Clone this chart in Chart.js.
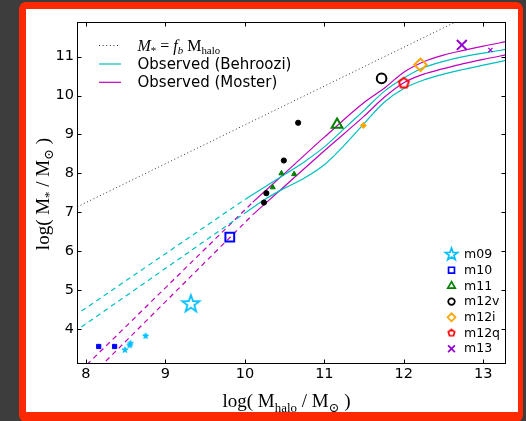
<!DOCTYPE html>
<html>
<head>
<meta charset="utf-8">
<script src="https://cdn.jsdelivr.net/npm/chart.js@4.4.0/dist/chart.umd.min.js"></script>
<style>
  html, body { margin: 0; padding: 0; background: #3d3d3d; overflow: hidden; }
  body { width: 526px; height: 421px; position: relative; }
  #frame {
    position: absolute; left: 19px; top: 2px; width: 492px; height: 403px;
    border: 7px solid #fc2a04; border-right-width: 5px; border-bottom-width: 10px;
    border-radius: 7px; background: #fff;
  }
  #frame canvas { display: block; }
</style>
</head>
<body>
<div id="frame"><canvas id="chart" width="492" height="403"></canvas></div>
<script>
(function () {
  // axis ticks
  var xTicks = [8, 9, 10, 11, 12, 13];
  var yTicks = [4, 5, 6, 7, 8, 9, 10, 11];

  // baryon fraction line, M* = f_b Mhalo
  var fbHalo = [7.85, 12.75];
  var fbStar = [7.10, 11.99];

  // Behroozi relation (two curves) and its low-mass extrapolation
  var behrooziHalo = [10.0, 10.25, 10.5, 10.75, 11.0, 11.25, 11.5, 11.75, 12.0, 12.25, 12.5, 12.75, 13.0, 13.3];
  var behrooziHi = [7.33, 7.65, 7.97, 8.30, 8.68, 9.15, 9.62, 10.10, 10.45, 10.72, 10.88, 11.00, 11.09, 11.19];
  var behrooziLo = [6.98, 7.33, 7.62, 7.88, 8.22, 8.72, 9.28, 9.82, 10.18, 10.40, 10.55, 10.67, 10.78, 10.91];
  var behrooziExtHalo = [7.85, 10.0];
  var behrooziExtHi = [4.33, 7.33];
  var behrooziExtLo = [3.92, 6.98];

  // Moster relation (two curves) and its low-mass extrapolation
  var mosterHalo = [10.1, 10.5, 11.0, 11.5, 11.75, 12.0, 12.25, 12.5, 12.75, 13.0, 13.3];
  var mosterHi = [7.26, 8.00, 8.93, 9.82, 10.18, 10.60, 10.87, 11.04, 11.16, 11.27, 11.39];
  var mosterLo = [6.94, 7.67, 8.58, 9.47, 9.95, 10.33, 10.55, 10.69, 10.82, 10.93, 11.05];
  var mosterExtHalo = [7.85, 10.1];
  var mosterExtHi = [2.76, 7.26];
  var mosterExtLo = [2.36, 6.94];

  // main haloes
  var simNames = ['m09', 'm10', 'm11', 'm12v', 'm12i', 'm12q', 'm13'];
  var simHalo = [9.32, 9.81, 11.16, 11.72, 12.21, 12.00, 12.73];
  var simStar = [4.64, 6.36, 9.25, 10.44, 10.79, 10.32, 11.30];

  // other galaxies in the same boxes
  var m09SmallHalo = [8.49, 8.55, 8.56, 8.75];
  var m09SmallStar = [3.46, 3.58, 3.63, 3.82];
  var m10SmallHalo = [8.16, 8.36];
  var m10SmallStar = [3.55, 3.55];
  var m11SmallHalo = [10.35, 10.46, 10.62];
  var m11SmallStar = [7.64, 8.00, 7.98];
  var m12vSmallHalo = [10.24, 10.27, 10.49, 10.67];
  var m12vSmallStar = [7.25, 7.49, 8.33, 9.30];
  var m12iSmallHalo = [11.49];
  var m12iSmallStar = [9.23];
  var m13SmallHalo = [13.09];
  var m13SmallStar = [11.17];

  var cyan = '#00bfbf';
  var magenta = '#bf00bf';
  var simColors = ['#00bfff', '#0000ff', '#008000', '#000000', '#ffa500', '#ff0000', '#9400d3'];

  function pts(xs, ys) {
    return xs.map(function (x, i) { return { x: x, y: ys[i] }; });
  }

  // star / pentagon markers as small canvases
  function polyMarker(n, rOut, rIn, color, filled, lw) {
    var pad = lw + 1;
    var s = Math.ceil(2 * rOut + 2 * pad);
    var c = document.createElement('canvas');
    c.width = s; c.height = s;
    var g = c.getContext('2d');
    var steps = rIn ? n * 2 : n;
    g.beginPath();
    for (var i = 0; i < steps; i++) {
      var r = (rIn && i % 2) ? rIn : rOut;
      var a = -Math.PI / 2 + i * 2 * Math.PI / steps;
      g.lineTo(s / 2 + r * Math.cos(a), s / 2 + r * Math.sin(a));
    }
    g.closePath();
    if (filled) { g.fillStyle = color; g.fill(); }
    g.lineWidth = lw;
    g.strokeStyle = color;
    g.stroke();
    return c;
  }

  var bigStar = polyMarker(5, 9, 3.6, simColors[0], false, 1.8);
  var smallStar = polyMarker(5, 3.2, 1.4, simColors[0], true, 0.8);
  var legendStar = polyMarker(5, 6.4, 2.6, simColors[0], false, 1.7);
  var bigPenta = polyMarker(5, 5.2, 0, simColors[5], false, 2);
  var legendPenta = polyMarker(5, 3.4, 0, simColors[5], false, 1.7);

  var bigStyles = [
    { pointStyle: bigStar, radius: 9, lw: 2, legend: { pointStyle: legendStar, radius: 6, lw: 1.7 } },
    { pointStyle: 'rect', radius: 6.2, lw: 2, legend: { pointStyle: 'rect', radius: 4.2, lw: 1.7 } },
    { pointStyle: 'triangle', radius: 6.2, lw: 2, legend: { pointStyle: 'triangle', radius: 4.3, lw: 1.7 } },
    { pointStyle: 'circle', radius: 4.8, lw: 2, legend: { pointStyle: 'circle', radius: 3.3, lw: 1.7 } },
    { pointStyle: 'rectRot', radius: 6.2, lw: 2, legend: { pointStyle: 'rectRot', radius: 4, lw: 1.7 } },
    { pointStyle: bigPenta, radius: 5, lw: 2, legend: { pointStyle: legendPenta, radius: 3.4, lw: 1.7 } },
    { pointStyle: 'crossRot', radius: 7, lw: 2, legend: { pointStyle: 'crossRot', radius: 4.8, lw: 1.7 } }
  ];

  function lineSet(xs, ys, color, dash, width) {
    return {
      data: pts(xs, ys),
      showLine: true,
      borderColor: color,
      borderWidth: width || 1.2,
      borderDash: dash || [],
      pointRadius: 0,
      fill: false,
      cubicInterpolationMode: 'monotone',
      order: 2
    };
  }

  function smallSet(xs, ys, color, style, radius, filled, lw) {
    return {
      data: pts(xs, ys),
      showLine: false,
      pointStyle: style,
      pointRadius: radius,
      pointBorderWidth: lw || 1,
      pointBorderColor: color,
      pointBackgroundColor: filled ? color : 'rgba(0,0,0,0)',
      order: 1
    };
  }

  var datasets = [
    lineSet(fbHalo, fbStar, '#333', [1, 2.6], 1),
    lineSet(behrooziExtHalo, behrooziExtHi, cyan, [5, 4]),
    lineSet(behrooziExtHalo, behrooziExtLo, cyan, [5, 4]),
    lineSet(mosterExtHalo, mosterExtHi, magenta, [5, 4]),
    lineSet(mosterExtHalo, mosterExtLo, magenta, [5, 4]),
    lineSet(behrooziHalo, behrooziHi, cyan),
    lineSet(behrooziHalo, behrooziLo, cyan),
    lineSet(mosterHalo, mosterHi, magenta),
    lineSet(mosterHalo, mosterLo, magenta),
    smallSet(m09SmallHalo, m09SmallStar, simColors[0], smallStar, 3, true),
    smallSet(m10SmallHalo, m10SmallStar, simColors[1], 'rect', 3, true),
    smallSet(m11SmallHalo, m11SmallStar, simColors[2], 'triangle', 3, true),
    smallSet(m12vSmallHalo, m12vSmallStar, simColors[3], 'circle', 2.6, true),
    smallSet(m12iSmallHalo, m12iSmallStar, simColors[4], 'rectRot', 3, true),
    smallSet(m13SmallHalo, m13SmallStar, simColors[6], 'crossRot', 3, false, 1.2)
  ];

  simNames.forEach(function (name, i) {
    var st = bigStyles[i];
    datasets.push({
      label: name,
      simLegend: st.legend,
      data: [{ x: simHalo[i], y: simStar[i] }],
      showLine: false,
      pointStyle: st.pointStyle,
      pointRadius: st.radius,
      pointBorderWidth: st.lw,
      pointBorderColor: simColors[i],
      pointBackgroundColor: 'rgba(0,0,0,0)',
      order: 0
    });
  });

  // text with sub/superscript pieces; y is the baseline
  function drawRich(ctx, parts, x, y, size, family, align) {
    var subSize = size * 0.68;
    function setFont(p) {
      ctx.font = (p.it ? 'italic ' : '') + (p.sub ? subSize : size) + 'px ' + family;
    }
    var total = 0;
    parts.forEach(function (p) { setFont(p); total += ctx.measureText(p.t).width; });
    var cx = align === 'center' ? x - total / 2 : x;
    ctx.textAlign = 'left';
    ctx.textBaseline = 'alphabetic';
    parts.forEach(function (p) {
      setFont(p);
      ctx.fillText(p.t, cx, y + (p.sub ? size * 0.24 : 0));
      cx += ctx.measureText(p.t).width;
    });
  }

  var serif = '"Liberation Serif", "DejaVu Serif", serif';
  var sans = '"DejaVu Sans", sans-serif';

  var xTitle = [{ t: 'log( M' }, { t: 'halo', sub: true }, { t: ' / M' }, { t: '\u2299', sub: true }, { t: ' )' }];
  var yTitle = [{ t: 'log( M' }, { t: '*', sub: true }, { t: ' / M' }, { t: '\u2299', sub: true }, { t: ' )' }];
  var fbLabel = [{ t: 'M', it: true }, { t: '*', sub: true }, { t: ' = ' }, { t: 'f', it: true }, { t: 'b', it: true, sub: true }, { t: ' M' }, { t: 'halo', sub: true }];

  var decorations = {
    id: 'decorations',
    afterDatasetsDraw: function (chart) {
      var ctx = chart.ctx;
      var a = chart.chartArea;
      var xs = chart.scales.x, ys = chart.scales.y;
      ctx.save();

      // frame and inward ticks on all four sides
      ctx.strokeStyle = '#000';
      ctx.lineWidth = 1;
      var L = Math.round(a.left) + 0.5, R = Math.round(a.right) - 0.5;
      var T = Math.round(a.top) + 0.5, B = Math.round(a.bottom) - 0.5;
      ctx.strokeRect(L, T, R - L, B - T);
      ctx.beginPath();
      xTicks.forEach(function (v) {
        var px = Math.round(xs.getPixelForValue(v)) + 0.5;
        ctx.moveTo(px, B); ctx.lineTo(px, B - 4);
        ctx.moveTo(px, T); ctx.lineTo(px, T + 4);
      });
      yTicks.forEach(function (v) {
        var py = Math.round(ys.getPixelForValue(v)) + 0.5;
        ctx.moveTo(L, py); ctx.lineTo(L + 4, py);
        ctx.moveTo(R, py); ctx.lineTo(R - 4, py);
      });
      ctx.stroke();

      // upper-left legend: line samples
      var rows = [
        { y: a.top + 23.5, color: '#333', dash: [1, 2.6], w: 1, len: 19, label: fbLabel },
        { y: a.top + 42, color: cyan, dash: [], w: 1.2, len: 22, label: 'Observed (Behroozi)' },
        { y: a.top + 60.3, color: magenta, dash: [], w: 1.2, len: 22, label: 'Observed (Moster)' }
      ];
      rows.forEach(function (r) {
        ctx.beginPath();
        ctx.setLineDash(r.dash);
        ctx.strokeStyle = r.color;
        ctx.lineWidth = r.w;
        ctx.moveTo(a.left + 22, r.y);
        ctx.lineTo(a.left + 22 + r.len, r.y);
        ctx.stroke();
        ctx.setLineDash([]);
        ctx.fillStyle = '#000';
        if (typeof r.label === 'string') {
          ctx.font = '15px ' + sans;
          ctx.textAlign = 'left';
          ctx.textBaseline = 'middle';
          ctx.fillText(r.label, a.left + 60.5, r.y + 1);
        } else {
          drawRich(ctx, r.label, a.left + 60.5, r.y + 5, 16, serif, 'left');
        }
      });

      // lower-right legend: one marker per halo
      var drawPoint = Chart.helpers && Chart.helpers.drawPoint;
      var k = 0;
      chart.data.datasets.forEach(function (ds) {
        if (!ds.simLegend) return;
        var px = a.right - 54.5;
        var py = a.bottom - 109.5 + k * 15.7;
        ctx.strokeStyle = ds.pointBorderColor;
        ctx.fillStyle = 'rgba(0,0,0,0)';
        ctx.lineWidth = ds.simLegend.lw;
        if (drawPoint) {
          drawPoint(ctx, { pointStyle: ds.simLegend.pointStyle, radius: ds.simLegend.radius, rotation: 0, borderWidth: ds.simLegend.lw }, px, py);
        }
        ctx.fillStyle = '#000';
        ctx.font = '12.5px ' + sans;
        ctx.textAlign = 'left';
        ctx.textBaseline = 'middle';
        ctx.fillText(ds.label, a.right - 42, py + 0.5);
        k++;
      });

      // axis titles
      ctx.fillStyle = '#000';
      drawRich(ctx, xTitle, (a.left + a.right) / 2 - 5, a.bottom + 43, 19, serif, 'center');
      ctx.translate(a.left - 28.5, (a.top + a.bottom) / 2 + 1);
      ctx.rotate(-Math.PI / 2);
      drawRich(ctx, yTitle, 0, 0, 19, serif, 'center');
      ctx.restore();
    }
  };

  new Chart(document.getElementById('chart'), {
    type: 'scatter',
    data: { datasets: datasets },
    options: {
      responsive: false,
      animation: false,
      events: [],
      layout: { padding: { top: 13, right: 12, left: 0, bottom: 0 } },
      scales: {
        x: {
          type: 'linear',
          min: 7.887,
          max: 13.286,
          grid: { display: false, drawTicks: false },
          border: { display: false },
          ticks: { color: '#000', padding: 2, font: { family: 'DejaVu Sans', size: 14.5 } },
          afterBuildTicks: function (s) { s.ticks = xTicks.map(function (v) { return { value: v }; }); },
          afterFit: function (s) { s.height = 48; }
        },
        y: {
          type: 'linear',
          min: 3.1,
          max: 11.89,
          grid: { display: false, drawTicks: false },
          border: { display: false },
          ticks: { color: '#000', padding: 3, font: { family: 'DejaVu Sans', size: 14.5 } },
          afterBuildTicks: function (s) { s.ticks = yTicks.map(function (v) { return { value: v }; }); },
          afterFit: function (s) { s.width = 51; }
        }
      },
      plugins: {
        legend: { display: false },
        tooltip: { enabled: false }
      }
    },
    plugins: [decorations]
  });
})();
</script>
</body>
</html>
